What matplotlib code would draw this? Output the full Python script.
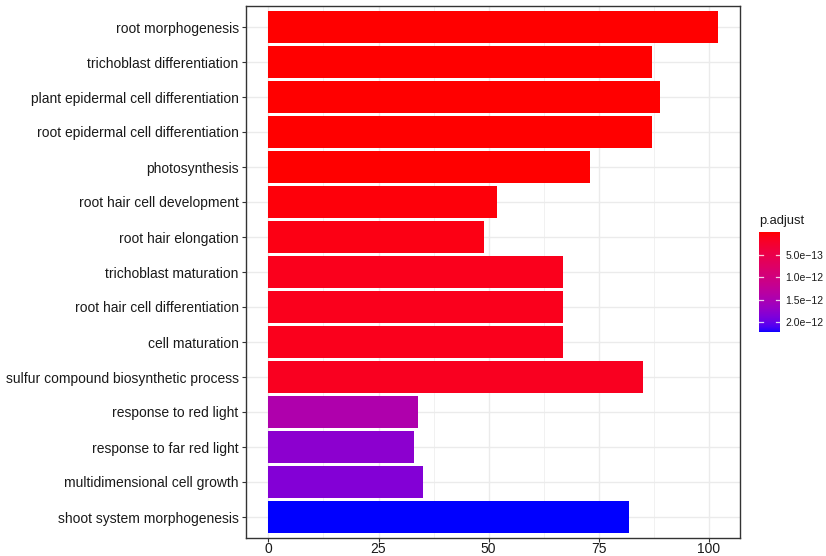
import numpy as np
import matplotlib
matplotlib.use("Agg")
import matplotlib.pyplot as plt
from matplotlib.colors import ListedColormap, Normalize
from matplotlib.cm import ScalarMappable

plt.rcParams["font.family"] = ["Liberation Sans", "DejaVu Sans"]

# GO terms, top to bottom
terms = [
    "root morphogenesis",
    "trichoblast differentiation",
    "plant epidermal cell differentiation",
    "root epidermal cell differentiation",
    "photosynthesis",
    "root hair cell development",
    "root hair elongation",
    "trichoblast maturation",
    "root hair cell differentiation",
    "cell maturation",
    "sulfur compound biosynthetic process",
    "response to red light",
    "response to far red light",
    "multidimensional cell growth",
    "shoot system morphogenesis",
]
counts = [102, 87, 89, 87, 73, 52, 49, 67, 67, 67, 85, 34, 33, 35, 82]
p_adjust = [1e-16, 2e-15, 3e-15, 4e-15, 6e-15, 3.5e-14, 8e-14,
            1.25e-13, 1.25e-13, 1.25e-13, 1.55e-13,
            1.45e-12, 1.78e-12, 1.84e-12, 2.215e-12]

x_ticks = [0, 25, 50, 75, 100]
cbar_ticks = [5.0e-13, 1.0e-12, 1.5e-12, 2.0e-12]
cbar_labels = ["5.0e\u221213", "1.0e\u221212", "1.5e\u221212", "2.0e\u221212"]


# red -> blue gradient interpolated in CIE Lab space
def srgb_to_lab(rgb):
    rgb = np.asarray(rgb, float)
    lin = np.where(rgb <= 0.04045, rgb / 12.92, ((rgb + 0.055) / 1.055) ** 2.4)
    M = np.array([[0.4124564, 0.3575761, 0.1804375],
                  [0.2126729, 0.7151522, 0.0721750],
                  [0.0193339, 0.1191920, 0.9503041]])
    xyz = M @ lin
    wp = np.array([0.95047, 1.0, 1.08883])
    t = xyz / wp
    d = 6 / 29
    f = np.where(t > d ** 3, np.cbrt(t), t / (3 * d * d) + 4 / 29)
    return np.array([116 * f[1] - 16, 500 * (f[0] - f[1]), 200 * (f[1] - f[2])])


def lab_to_srgb(lab):
    L, a, b = lab
    fy = (L + 16) / 116
    fx = fy + a / 500
    fz = fy - b / 200
    d = 6 / 29

    def finv(f):
        return f ** 3 if f > d else 3 * d * d * (f - 4 / 29)

    wp = np.array([0.95047, 1.0, 1.08883])
    xyz = np.array([finv(fx), finv(fy), finv(fz)]) * wp
    Minv = np.array([[3.2404542, -1.5371385, -0.4985314],
                     [-0.9692660, 1.8760108, 0.0415560],
                     [0.0556434, -0.2040259, 1.0572252]])
    lin = np.clip(Minv @ xyz, 0, 1)
    rgb = np.where(lin <= 0.0031308, 12.92 * lin, 1.055 * lin ** (1 / 2.4) - 0.055)
    return np.clip(rgb, 0, 1)


lab_lo = srgb_to_lab([1, 0, 0])
lab_hi = srgb_to_lab([0, 0, 1])
grad = [lab_to_srgb(lab_lo + (lab_hi - lab_lo) * t) for t in np.linspace(0, 1, 256)]
cmap = ListedColormap(grad)
norm = Normalize(vmin=min(p_adjust), vmax=max(p_adjust))

fig = plt.figure(figsize=(8.26, 5.56), dpi=100)
W, H = 826, 556
ax = fig.add_axes([246 / W, 1 - 538 / H, (740 - 246) / W, (538 - 6) / H])

n = len(terms)
ypos = np.arange(n, 0, -1)
ax.barh(ypos, counts, height=0.9, color=[cmap(norm(p)) for p in p_adjust],
        zorder=3)

ax.set_xlim(-0.05 * max(counts), 1.05 * max(counts))
ax.set_ylim(0.4, n + 0.6)

ax.set_xticks(x_ticks)
ax.set_xticks([12.5, 37.5, 62.5, 87.5], minor=True)
ax.set_yticks(ypos)
ax.set_yticklabels(terms)
ax.grid(which="major", color="#EBEBEB", linewidth=1.0, zorder=0)
ax.grid(which="minor", axis="x", color="#EBEBEB", linewidth=0.5, zorder=0)
ax.tick_params(axis="both", which="major", length=2.8, width=0.8,
               color="#333333", labelsize=10, labelcolor="#1A1A1A")
ax.tick_params(axis="y", which="major", pad=2.5)
ax.tick_params(axis="x", which="major", pad=0.3)
ax.tick_params(axis="both", which="minor", length=0)
for s in ax.spines.values():
    s.set_color("#333333")
    s.set_linewidth(1.0)
ax.set_axisbelow(True)

# colour legend
cax = fig.add_axes([759 / W, 1 - 332 / H, 21 / W, 100 / H])
sm = ScalarMappable(norm=norm, cmap=cmap)
cb = fig.colorbar(sm, cax=cax)
cb.outline.set_visible(False)
cax.invert_yaxis()
cb.set_ticks(cbar_ticks)
cb.set_ticklabels(cbar_labels)
cax.tick_params(length=0, labelsize=7.5, labelcolor="#1A1A1A", pad=4)
for t in cbar_ticks:
    cax.plot([0, 0.2], [t, t], color="white", lw=0.9, transform=cax.get_yaxis_transform(), alpha=0.8)
    cax.plot([0.8, 1.0], [t, t], color="white", lw=0.9, transform=cax.get_yaxis_transform(), alpha=0.8)
fig.text(759 / W, 1 - 224 / H, "p.adjust", fontsize=9.3, color="#1A1A1A",
         ha="left", va="baseline")

fig.savefig("out.png", dpi=100)
